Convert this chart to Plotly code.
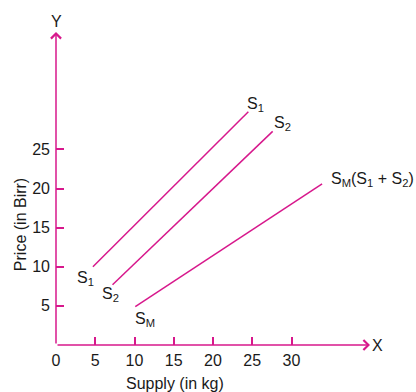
import plotly.graph_objects as go

# Data
s1_x = [4.7, 24.5]
s1_y = [10.0, 29.8]
s2_x = [7.2, 27.6]
s2_y = [7.7, 27.3]
sm_x = [10.1, 33.9]
sm_y = [4.9, 20.6]

x_ticks = [0, 5, 10, 15, 20, 25, 30]
y_ticks = [5, 10, 15, 20, 25]

MAG = "#d7188c"
TXT = "#1a1a1a"
FONT = "Liberation Sans, Arial, sans-serif"
XMAX = 40.0
YMAX = 40.0

fig = go.Figure()
for xs, ys in [(s1_x, s1_y), (s2_x, s2_y), (sm_x, sm_y)]:
    fig.add_trace(go.Scatter(x=xs, y=ys, mode="lines",
                             line=dict(color=MAG, width=1.5),
                             showlegend=False, hoverinfo="skip", cliponaxis=False))

ann = []
# axis arrows
ann.append(dict(x=XMAX, y=0, ax=0, ay=0, xref="x", yref="y", axref="x", ayref="y",
                text="", showarrow=True, arrowhead=4, arrowsize=1.3, arrowwidth=1.5,
                arrowcolor=MAG))
ann.append(dict(x=0, y=YMAX, ax=0, ay=0, xref="x", yref="y", axref="x", ayref="y",
                text="", showarrow=True, arrowhead=4, arrowsize=1.3, arrowwidth=1.5,
                arrowcolor=MAG))

def lab(x, y, t, size=16, **kw):
    # positions given in data units, placed in paper coords so they are never hidden
    d = dict(x=x / XMAX, y=y / YMAX, xref="paper", yref="paper", text=t, showarrow=False,
             xanchor="center", yanchor="middle",
             font=dict(family=FONT, size=size, color=TXT))
    d.update(kw)
    ann.append(d)

lab(0.1, 41.3, "Y")
lab(40.9, -0.1, "X")
lab(3.7, 8.5, "S<sub>1</sub>")
lab(7.0, 6.4, "S<sub>2</sub>")
lab(11.4, 3.2, "S<sub>M</sub>")
lab(25.4, 30.7, "S<sub>1</sub>")
lab(28.8, 28.3, "S<sub>2</sub>")
lab(40.3, 21.1, "S<sub>M</sub>(S<sub>1</sub> + S<sub>2</sub>)")

# axis titles
ann.append(dict(x=-0.1146, y=0.383, xref="paper", yref="paper", text="Price (in Birr)",
                xanchor="center", yanchor="middle",
                textangle=-90, showarrow=False, font=dict(family=FONT, size=16, color=TXT)))
ann.append(dict(x=0.379, y=-0.124, xref="paper", yref="paper", text="Supply (in kg)",
                xanchor="center", yanchor="middle",
                showarrow=False, font=dict(family=FONT, size=16, color=TXT)))

fig.update_layout(
    width=416, height=392,
    margin=dict(l=56, r=46, t=32, b=47),
    paper_bgcolor="white", plot_bgcolor="white",
    annotations=ann,
    font=dict(family=FONT, size=16, color=TXT),
    xaxis=dict(range=[0, XMAX], tickvals=x_ticks, ticktext=[str(v) for v in x_ticks],
               ticks="inside", ticklen=8, tickcolor=MAG, tickwidth=1.5,
               ticklabelstandoff=4,
               showgrid=False, zeroline=False, showline=False, automargin=False,
               tickfont=dict(size=16, color=TXT)),
    yaxis=dict(range=[0, YMAX], tickvals=y_ticks, ticktext=[str(v) for v in y_ticks],
               ticks="inside", ticklen=8, tickcolor=MAG, tickwidth=1.5,
               ticklabelstandoff=5,
               showgrid=False, zeroline=False, showline=False, automargin=False,
               tickfont=dict(size=16, color=TXT)),
)

fig.write_html("out.html", config={"displayModeBar": False},
               post_script="document.body.style.margin='0';document.body.style.padding='0';")
